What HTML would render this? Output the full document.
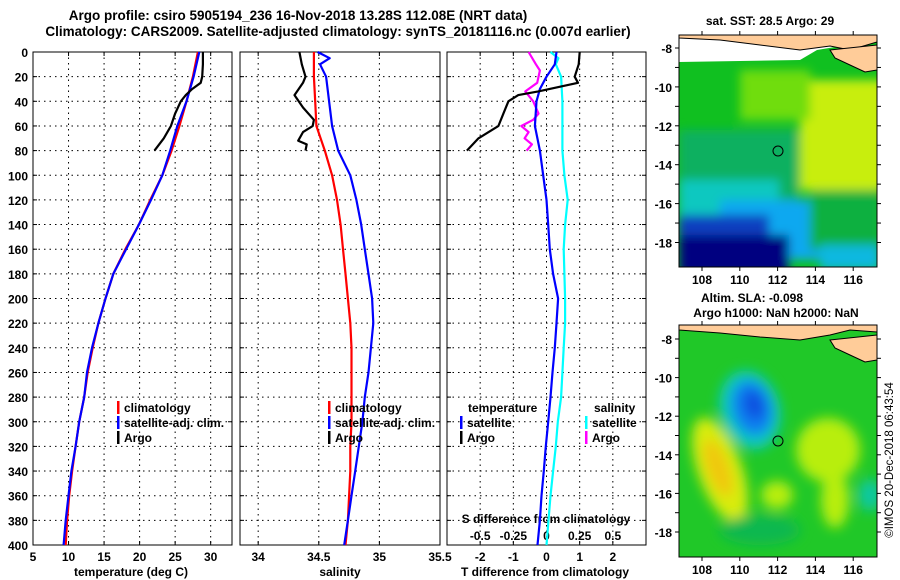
<!DOCTYPE html>
<html><head><meta charset="utf-8"><style>
html,body{margin:0;padding:0;background:#fff;}
svg{display:block;font-family:"Liberation Sans",sans-serif;font-weight:bold;}
</style></head><body>
<svg id="c" width="900" height="580" viewBox="0 0 900 580">
<defs>
<filter id="bl" x="-30%" y="-30%" width="160%" height="160%"><feGaussianBlur stdDeviation="6"/></filter>
<filter id="bl2" x="-20%" y="-20%" width="140%" height="140%"><feGaussianBlur stdDeviation="5"/></filter>
<clipPath id="m1"><rect x="679" y="35" width="198" height="232"/></clipPath>
<clipPath id="m2"><rect x="679" y="325" width="198" height="232"/></clipPath>
</defs>
<text x="298" y="20" font-size="13.5" text-anchor="middle">Argo profile: csiro 5905194_236 16-Nov-2018 13.28S 112.08E (NRT data)</text>
<text x="338" y="36" font-size="13.5" text-anchor="middle">Climatology: CARS2009. Satellite-adjusted climatology: synTS_20181116.nc (0.007d earlier)</text>

<g clip-path="url(#m1)">
<rect x="679" y="35" width="198" height="232" fill="#10c020"/>
<g filter="url(#bl2)">
<rect x="800" y="80" width="90" height="110" fill="#c8ee10"/>
<rect x="740" y="70" width="70" height="50" fill="#70dd10"/>
<rect x="679" y="130" width="120" height="80" fill="#10b060"/>
<rect x="679" y="180" width="100" height="40" fill="#10c8c0"/>
<rect x="720" y="200" width="120" height="60" fill="#10a8f0"/>
<rect x="679" y="215" width="90" height="55" fill="#0840c0"/>
<rect x="679" y="235" width="110" height="40" fill="#000080"/>
<rect x="810" y="190" width="70" height="60" fill="#10b040"/>
<rect x="820" y="245" width="60" height="25" fill="#10b8e0"/>
</g>
<polygon points="679,35 877,35 877,40 817,50 800,60 679,62" fill="#fff"/>
<polygon points="679,35 877,35 877,42 850,50 830,46 800,50 760,45 720,40 679,38" fill="#ffcc99" stroke="#000" stroke-width="1"/>
<polygon points="830,50 877,45 877,70 865,72 850,65 835,58" fill="#ffcc99" stroke="#000" stroke-width="1"/>
</g>
<rect x="679" y="35" width="198" height="232" fill="none" stroke="#000"/>
<circle cx="778" cy="151" r="5" fill="none" stroke="#000"/>
<text x="770" y="25" font-size="12" text-anchor="middle">sat. SST: 28.5 Argo: 29</text>

<g clip-path="url(#m2)">
<rect x="679" y="325" width="198" height="232" fill="#20c828"/>
<g filter="url(#bl)">
<ellipse cx="720" cy="470" rx="22" ry="55" fill="#d8ec10" transform="rotate(-20 720 470)"/>
<ellipse cx="718" cy="468" rx="11" ry="30" fill="#f0c810" transform="rotate(-20 718 468)"/>
<ellipse cx="828" cy="450" rx="32" ry="32" fill="#b8ee10"/>
<ellipse cx="835" cy="500" rx="14" ry="28" fill="#b8ee10"/>
<ellipse cx="777" cy="495" rx="16" ry="14" fill="#b8ee10"/>
<ellipse cx="750" cy="410" rx="30" ry="40" fill="#10c8c0" transform="rotate(-15 750 410)"/>
<ellipse cx="752" cy="408" rx="20" ry="28" fill="#1080f0" transform="rotate(-15 752 408)"/>
<ellipse cx="754" cy="405" rx="10" ry="15" fill="#1050e0" transform="rotate(-15 754 405)"/>
<ellipse cx="870" cy="495" rx="12" ry="16" fill="#10c8a0"/>
<ellipse cx="760" cy="530" rx="40" ry="15" fill="#10b850"/>
</g>
<polygon points="679,325 877,325 877,332 850,330 830,335 800,340 760,337 720,333 679,330" fill="#ffcc99" stroke="#000" stroke-width="1"/>
<polygon points="830,340 877,335 877,360 865,362 850,355 835,348" fill="#ffcc99" stroke="#000" stroke-width="1"/>
</g>
<rect x="679" y="325" width="198" height="232" fill="none" stroke="#000"/>
<circle cx="778" cy="441" r="5" fill="none" stroke="#000"/>
<text x="752" y="302" font-size="12" text-anchor="middle">Altim. SLA: -0.098</text>
<text x="776" y="317" font-size="12" text-anchor="middle">Argo h1000: NaN h2000: NaN</text>
<text transform="translate(893,460) rotate(-90)" font-size="11.5" font-weight="normal" text-anchor="middle">©IMOS 20-Dec-2018 06:43:54</text>
</svg>
<script>
// ---- data ----
const depthTicks=[0,20,40,60,80,100,120,140,160,180,200,220,240,260,280,300,320,340,360,380,400];
const tTicks=[5,10,15,20,25,30];
const sTicks=[34,34.5,35,35.5];
const sTickLabels=["34","34.5","35","35.5"];
const dTicks=[-2,-1,0,1,2];
const sdTicks=[-0.5,-0.25,0,0.25,0.5];
const sdTickLabels=["-0.5","-0.25","0","0.25","0.5"];
const climDepth=[0,20,40,60,80,100,120,140,160,180,200,220,240,260,280,300,320,340,360,380,400];
const tempClim=[28.2,27.5,26.6,25.6,24.5,23.2,21.5,19.9,18.0,16.3,15.2,14.2,13.4,12.7,12.2,11.5,11.0,10.5,10.1,9.8,9.6];
const tempSat=[28.4,27.6,26.6,25.3,24.3,23.2,21.6,19.9,18.1,16.3,15.2,14.2,13.3,12.6,12.2,11.5,11.0,10.4,10.0,9.6,9.3];
const argoDepth=[0,10,20,25,30,35,40,50,60,70,80];
const tempArgo=[28.9,28.9,28.8,28.6,27.4,26.5,25.8,25.0,24.4,23.4,22.1];
const salClim=[34.46,34.46,34.47,34.48,34.55,34.61,34.65,34.68,34.70,34.72,34.74,34.76,34.77,34.77,34.77,34.77,34.76,34.76,34.75,34.74,34.72];
const salSatDepth=[0,5,10,20,60,80,100,120,140,160,180,200,220,240,260,280,300,320,340,360,380,400];
const salSat=[34.49,34.59,34.51,34.56,34.61,34.66,34.76,34.81,34.85,34.88,34.91,34.94,34.95,34.93,34.91,34.88,34.86,34.83,34.80,34.77,34.74,34.71];
const salArgoDepth=[0,10,20,25,35,45,55,60,65,72,75,80];
const salArgo=[34.34,34.36,34.39,34.37,34.30,34.37,34.46,34.45,34.37,34.33,34.40,34.39];
const tdiffSatDepth=[0,10,20,30,40,60,80,100,120,140,160,180,200,220,240,260,280,300,320,340,360,380,400];
const tdiffSat=[0.3,0.25,0,-0.2,-0.3,-0.35,-0.2,-0.1,0,0.05,0.1,0.2,0.35,0.3,0.25,0.18,0.12,0.05,-0.02,-0.08,-0.15,-0.2,-0.27];
const tdiffArgoDepth=[0,10,20,25,32,35,40,50,60,70,80];
const tdiffArgo=[1.0,0.97,0.85,0.95,-0.25,-0.85,-1.15,-1.3,-1.45,-2.05,-2.4];
const sdiffSatDepth=[0,5,10,20,40,60,80,100,120,140,160,200,220,240,260,280,300,320,340,360,380,400];
const sdiffSat=[0.03,0.09,0.07,0.11,0.12,0.12,0.12,0.135,0.16,0.14,0.13,0.14,0.14,0.13,0.12,0.11,0.085,0.07,0.05,0.03,0.015,0.0];
const sdiffArgoDepth=[0,10,15,25,32,40,50,55,60,65,70,75,80];
const sdiffArgo=[-0.135,-0.08,-0.05,-0.07,-0.16,-0.1,-0.06,-0.1,-0.19,-0.135,-0.165,-0.11,-0.15];
const mapLats=[-8,-10,-12,-14,-16,-18];
const mapLons=[108,110,112,114,116];

const NS='http://www.w3.org/2000/svg';
const svg=document.getElementById('c');
function mk(tag,at,parent){const e=document.createElementNS(NS,tag);for(const k in at)e.setAttribute(k,at[k]);(parent||svg).appendChild(e);return e;}
const yTop=52,yBot=545;
const yD=d=>yTop+d*(yBot-yTop)/400;
const panels=[
 {x0:33,x1:232,lo:5,hi:33,name:'temperature'},
 {x0:240,x1:440,lo:33.85,hi:35.5,name:'salinity'},
 {x0:447,x1:646,lo:-3,hi:3,name:'tdiff'}];
const sx=(p,v)=>p.x0+(v-p.lo)/(p.hi-p.lo)*(p.x1-p.x0);
const xT=v=>sx(panels[0],v), xS=v=>sx(panels[1],v), xD=v=>sx(panels[2],v), xSD=v=>sx(panels[2],v*4);

panels.forEach((p,i)=>{
 const g=mk('g',{});
 
 
 depthTicks.forEach(d=>{
  if(d>0&&d<400){const l=mk('line',{x1:p.x0,x2:p.x1,y1:yD(d),y2:yD(d),stroke:'#000','stroke-dasharray':'1.5,4'},g);
  }
  mk('line',{x1:p.x0,x2:p.x0+4,y1:yD(d),y2:yD(d),stroke:'#000'},g);
  mk('line',{x1:p.x1,x2:p.x1-4,y1:yD(d),y2:yD(d),stroke:'#000'},g);
 });
 const ticks=i==0?tTicks:i==1?sTicks:dTicks;
 ticks.forEach(v=>{const x=sx(p,v);
  if(x>p.x0+1&&x<p.x1-1){const l=mk('line',{x1:x,x2:x,y1:yTop,y2:yBot,stroke:'#000','stroke-dasharray':'1.5,4'},g);
  }
  mk('line',{x1:x,x2:x,y1:yBot,y2:yBot-4,stroke:'#000'},g);mk('line',{x1:x,x2:x,y1:yTop,y2:yTop+4,stroke:'#000'},g);
 });
 const r=mk('rect',{x:p.x0,y:yTop,width:p.x1-p.x0,height:yBot-yTop,fill:'none',stroke:'#000'},g);
 
});
depthTicks.forEach(d=>{const t=mk('text',{x:28,y:yD(d)+5,'font-size':12,'text-anchor':'end'});t.textContent=d;
 });
function xl(x,txt){const t=mk('text',{x:x,y:561,'font-size':12,'text-anchor':'middle'});t.textContent=txt;
 }
tTicks.forEach(v=>xl(xT(v),v));
sTicks.forEach((v,i)=>xl(xS(v),sTickLabels[i]));
dTicks.forEach(v=>xl(xD(v),v));
sdTicks.forEach((v,i)=>{const t=mk('text',{x:xSD(v),y:540,'font-size':12,'text-anchor':'middle'});t.textContent=sdTickLabels[i];
 });
function lab(x,y,txt,name,anchor){const t=mk('text',{x:x,y:y,'font-size':12,'text-anchor':anchor||'middle'});t.textContent=txt;
 return t;}
lab(131,576,'temperature (deg C)','temperature-axis-title');
lab(340,576,'salinity','salinity-axis-title');
lab(545,576,'T difference from climatology','tdiff-axis-title');
lab(546,523,'S difference from climatology','sdiff-axis-title');

function line(xs,ds,fx,color,name){
 const pts=xs.map((v,i)=>fx(v).toFixed(1)+','+yD(ds[i]).toFixed(1)).join(' ');
 const pl=mk('polyline',{points:pts,fill:'none',stroke:color,'stroke-width':2.2,'stroke-linejoin':'round'});
 }
line(tempClim,climDepth,xT,'#ff0000','temp-climatology-line');
line(tempSat,climDepth,xT,'#0000ff','temp-satellite-line');
line(tempArgo,argoDepth,xT,'#000','temp-argo-line');
line(salClim,climDepth,xS,'#ff0000','sal-climatology-line');
line(salSat,salSatDepth,xS,'#0000ff','sal-satellite-line');
line(salArgo,salArgoDepth,xS,'#000','sal-argo-line');
line(sdiffArgo,sdiffArgoDepth,xSD,'#ff00ff','sdiff-argo-line');
line(sdiffSat,sdiffSatDepth,xSD,'#00ffff','sdiff-satellite-line');
line(tdiffSat,tdiffSatDepth,xD,'#0000ff','tdiff-satellite-line');
line(tdiffArgo,tdiffArgoDepth,xD,'#000','tdiff-argo-line');

function leg(x,y,color,txt){const g=mk('g',{});
 
 mk('rect',{x:x,y:y-11,width:2.5,height:13,fill:color},g);
 const t=mk('text',{x:x+7,y:y,'font-size':12},g);t.textContent=txt;}
leg(117,412,'#ff0000','climatology');leg(117,427,'#0000ff','satellite-adj. clim.');leg(117,442,'#000','Argo');
leg(328,412,'#ff0000','climatology');leg(328,427,'#0000ff','satellite-adj. clim.');leg(328,442,'#000','Argo');
lab(468,412,'temperature','legend-temperature-heading','start');
leg(460,427,'#0000ff','satellite');leg(460,442,'#000','Argo');
lab(594,412,'salinity','legend-salinity-heading','start');
leg(585,427,'#00ffff','satellite');leg(585,442,'#ff00ff','Argo');

// map axes
[[35,48,38.9],[325,339,38.6]].forEach(([y0,yl8,step],mi)=>{
 const h=232;
 mapLats.forEach((la,i)=>{const y=yl8+i*step;
  mk('line',{x1:679,x2:675,y1:y,y2:y,stroke:'#000'});mk('line',{x1:877,x2:881,y1:y,y2:y,stroke:'#000'});
  const t=mk('text',{x:672,y:y+5,'font-size':12,'text-anchor':'end'});t.textContent=la;
  
  if(i<5){const ym=y+step/2;mk('line',{x1:679,x2:675,y1:ym,y2:ym,stroke:'#000'});mk('line',{x1:877,x2:881,y1:ym,y2:ym,stroke:'#000'});}
 });
 mapLons.forEach(lo=>{const x=702+(lo-108)*18.9;
  mk('line',{x1:x,x2:x,y1:y0,y2:y0-4,stroke:'#000'});mk('line',{x1:x,x2:x,y1:y0+h,y2:y0+h+4,stroke:'#000'});
  const t=mk('text',{x:x,y:y0+h+17,'font-size':12,'text-anchor':'middle'});t.textContent=lo;
  
 });
});
</script>
</body></html>
